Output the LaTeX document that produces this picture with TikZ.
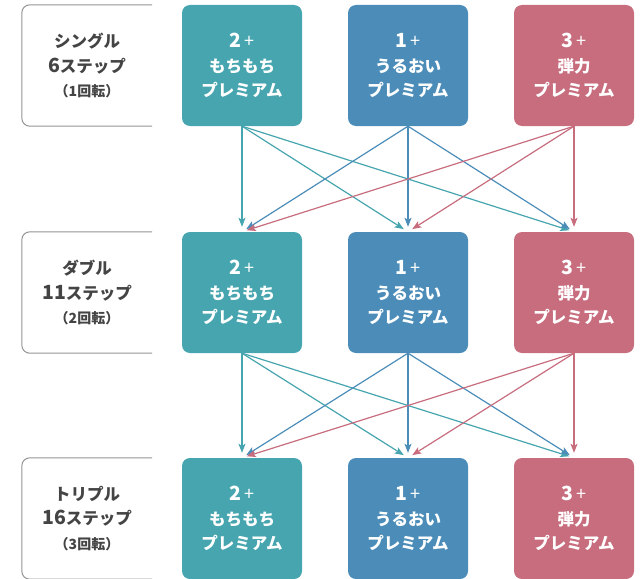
\documentclass[tikz,border=0pt]{standalone}
\usepackage{fontspec}
\setmainfont{Noto Sans CJK JP}
\usepackage{tikz}
\usetikzlibrary{arrows.meta}
\definecolor{mochicol}{HTML}{46A5AE}
\definecolor{uruoicol}{HTML}{4B8DB8}
\definecolor{danrcol}{HTML}{C76D7E}
\definecolor{labtext}{HTML}{444444}
\definecolor{labline}{HTML}{939393}
\tikzset{box/.style={rounded corners=8pt,minimum width=120pt,minimum height=121pt,inner sep=0pt,
  text=white,align=center,font=\bfseries\fontsize{16.5}{24.5}\selectfont}}
\tikzset{mochi/.style={box,fill=mochicol},uruoi/.style={box,fill=uruoicol},danr/.style={box,fill=danrcol}}
\tikzset{lab/.style={minimum width=130pt,minimum height=121pt,inner sep=0pt,text=labtext,
  align=center,font=\bfseries\fontsize{16.5}{24.5}\selectfont}}
\tikzset{arr/.style={-{Stealth[length=9pt,width=7pt,inset=2pt]},line width=1.2pt,shorten >=5pt}}
\newcommand{\smallpar}[1]{{\fontsize{14}{24.5}\selectfont #1}}
\newcommand{\bignum}[1]{{\fontsize{19.5}{24.5}\selectfont #1}}
\newcommand{\plusno}[1]{\bignum{#1}\,{\mdseries\fontsize{18}{24.5}\selectfont +}}
\begin{document}
\begin{tikzpicture}[x=1pt,y=-1pt]
\useasboundingbox (0,0) rectangle (644,578);

% labels on the left
\node[lab] (L1) at (87,65.5) {シングル\\\bignum{6}ステップ\\\smallpar{（1回転）}};
\node[lab] (L2) at (87,292.5) {ダブル\\\bignum{11}ステップ\\\smallpar{（2回転）}};
\node[lab] (L3) at (87,518.5) {トリプル\\\bignum{16}ステップ\\\smallpar{（3回転）}};
\draw[labline,line width=1pt,rounded corners=8pt] (L1.north east) -- (L1.north west) -- (L1.south west) -- (L1.south east);
\draw[labline,line width=1pt,rounded corners=8pt] (L2.north east) -- (L2.north west) -- (L2.south west) -- (L2.south east);
\draw[labline,line width=1pt,rounded corners=8pt] (L3.north east) -- (L3.north west) -- (L3.south west) -- (L3.south east);

% premium boxes
\node[mochi] (m1) at (242,65.5) {\plusno{2}\\もちもち\\プレミアム};
\node[uruoi] (u1) at (408,65.5) {\plusno{1}\\うるおい\\プレミアム};
\node[danr] (d1) at (574,65.5) {\plusno{3}\\弾力\\プレミアム};
\node[mochi] (m2) at (242,292.5) {\plusno{2}\\もちもち\\プレミアム};
\node[uruoi] (u2) at (408,292.5) {\plusno{1}\\うるおい\\プレミアム};
\node[danr] (d2) at (574,292.5) {\plusno{3}\\弾力\\プレミアム};
\node[mochi] (m3) at (242,518.5) {\plusno{2}\\もちもち\\プレミアム};
\node[uruoi] (u3) at (408,518.5) {\plusno{1}\\うるおい\\プレミアム};
\node[danr] (d3) at (574,518.5) {\plusno{3}\\弾力\\プレミアム};

% first to second
\draw[arr,mochicol] (m1.south) -- (m2.north);
\draw[arr,mochicol] (m1.south) -- (u2.north);
\draw[arr,mochicol] (m1.south) -- (d2.north);
\draw[arr,uruoicol] (u1.south) -- (m2.north);
\draw[arr,uruoicol] (u1.south) -- (u2.north);
\draw[arr,uruoicol] (u1.south) -- (d2.north);
\draw[arr,danrcol] (d1.south) -- (m2.north);
\draw[arr,danrcol] (d1.south) -- (u2.north);
\draw[arr,danrcol] (d1.south) -- (d2.north);

% second to third
\draw[arr,mochicol] (m2.south) -- (m3.north);
\draw[arr,mochicol] (m2.south) -- (u3.north);
\draw[arr,mochicol] (m2.south) -- (d3.north);
\draw[arr,uruoicol] (u2.south) -- (m3.north);
\draw[arr,uruoicol] (u2.south) -- (u3.north);
\draw[arr,uruoicol] (u2.south) -- (d3.north);
\draw[arr,danrcol] (d2.south) -- (m3.north);
\draw[arr,danrcol] (d2.south) -- (u3.north);
\draw[arr,danrcol] (d2.south) -- (d3.north);
\end{tikzpicture}
\end{document}
